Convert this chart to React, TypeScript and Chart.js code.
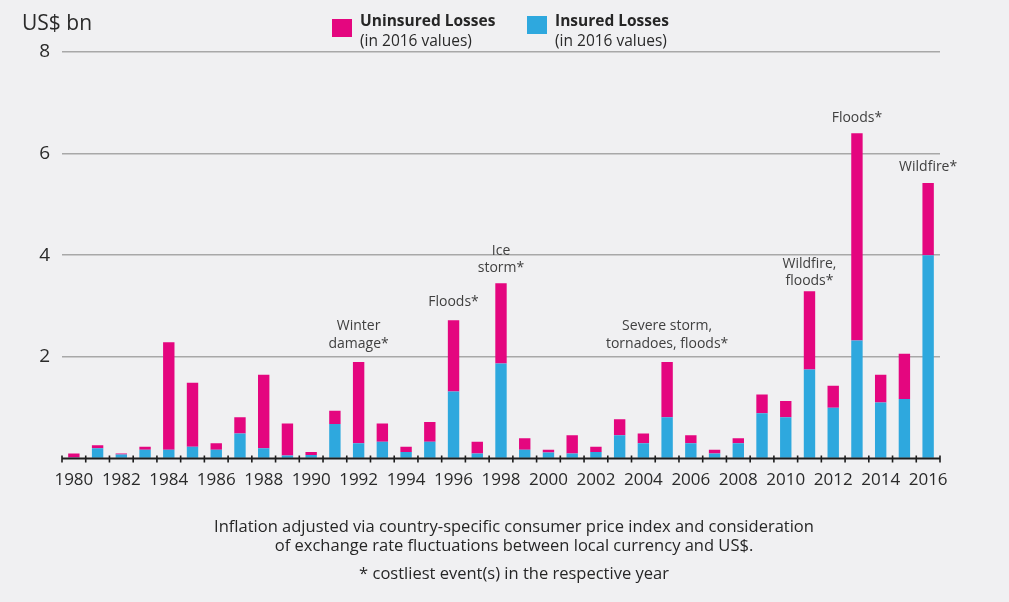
import React, { useEffect, useRef } from "react";
import { Chart, registerables } from "chart.js";

Chart.register(...registerables);

const years = [
  "1980", "1981", "1982", "1983", "1984", "1985", "1986", "1987", "1988", "1989",
  "1990", "1991", "1992", "1993", "1994", "1995", "1996", "1997", "1998", "1999",
  "2000", "2001", "2002", "2003", "2004", "2005", "2006", "2007", "2008", "2009",
  "2010", "2011", "2012", "2013", "2014", "2015", "2016",
];

// US$ bn, 2016 values
const insuredLosses = [
  0.02, 0.2, 0.08, 0.17, 0.17, 0.23, 0.17, 0.49, 0.2, 0.06,
  0.07, 0.68, 0.3, 0.33, 0.13, 0.33, 1.32, 0.1, 1.87, 0.17,
  0.12, 0.1, 0.13, 0.46, 0.3, 0.81, 0.3, 0.1, 0.3, 0.89,
  0.81, 1.75, 1.0, 2.32, 1.1, 1.17, 4.0,
];

const uninsuredLosses = [
  0.08, 0.06, 0.02, 0.06, 2.12, 1.26, 0.13, 0.32, 1.45, 0.63,
  0.06, 0.26, 1.6, 0.36, 0.1, 0.39, 1.4, 0.23, 1.58, 0.23,
  0.05, 0.36, 0.1, 0.31, 0.19, 1.09, 0.16, 0.07, 0.1, 0.37,
  0.32, 1.54, 0.43, 4.08, 0.55, 0.89, 1.42,
];

const yTickValues = [2, 4, 6, 8];

const eventYears = ["1992", "1996", "1998", "2005", "2011", "2013", "2016"];
const eventLabels = [
  ["Winter", "damage*"],
  ["Floods*"],
  ["Ice", "storm*"],
  ["Severe storm,", "tornadoes, floods*"],
  ["Wildfire,", "floods*"],
  ["Floods*"],
  ["Wildfire*"],
];
const eventGaps = [18, 18, 15, 18, 10, 15, 16];

const unitLabel = "US$ bn";
const legendTitles = ["Uninsured Losses", "Insured Losses"];
const legendSub = "(in 2016 values)";
const footnoteLines = [
  "Inflation adjusted via country-specific consumer price index and consideration",
  "of exchange rate fluctuations between local currency and US$.",
];
const footnoteStar = "* costliest event(s) in the respective year";

const MAGENTA = "#e4067f";
const BLUE = "#2ea8de";
const BG = "#f0f0f2";
const TEXT = "#2a2a2a";
const GRID = "#a8a8a8";
const FONT = "'Open Sans', 'DejaVu Sans', sans-serif";

const W = 1009;
const H = 602;

const bgPlugin = {
  id: "bgFill",
  beforeDraw(chart: any) {
    const ctx = chart.ctx;
    ctx.save();
    ctx.fillStyle = BG;
    ctx.fillRect(0, 0, chart.width, chart.height);
    ctx.restore();
  },
};

const decorPlugin = {
  id: "decor",
  afterDraw(chart: any) {
    const ctx = chart.ctx;
    const xs = chart.scales.x;
    const ys = chart.scales.y;
    const base = ys.getPixelForValue(0);
    const step = xs.getPixelForValue(1) - xs.getPixelForValue(0);

    ctx.save();
    // x axis line + ticks
    ctx.strokeStyle = "#1e1e1e";
    ctx.lineWidth = 2;
    ctx.beginPath();
    ctx.moveTo(xs.left, base);
    ctx.lineTo(xs.right, base);
    ctx.stroke();
    ctx.lineWidth = 1.6;
    ctx.beginPath();
    for (let i = 0; i <= years.length; i++) {
      const px = xs.getPixelForValue(0) - step / 2 + i * step;
      ctx.moveTo(px, base - 3);
      ctx.lineTo(px, base + 4);
    }
    ctx.stroke();

    // event annotations
    ctx.fillStyle = "#404040";
    ctx.font = `14px ${FONT}`;
    ctx.textAlign = "center";
    ctx.textBaseline = "middle";
    eventYears.forEach((yr, k) => {
      const i = years.indexOf(yr);
      const total = insuredLosses[i] + uninsuredLosses[i];
      const cx = xs.getPixelForValue(i);
      const top = ys.getPixelForValue(total);
      const lines = eventLabels[k];
      lines.forEach((ln, j) => {
        const y = top - eventGaps[k] - (lines.length - 1 - j) * 17.5;
        ctx.fillText(ln, cx, y);
      });
    });

    // unit label
    ctx.fillStyle = TEXT;
    ctx.textAlign = "left";
    ctx.font = `21px ${FONT}`;
    ctx.fillText(unitLabel, 22, 24);

    // legend
    const items = [
      { color: MAGENTA, x: 332, sy: 19 },
      { color: BLUE, x: 527, sy: 16 },
    ];
    items.forEach((it, k) => {
      ctx.fillStyle = it.color;
      ctx.fillRect(it.x, it.sy, 20, 18);
      ctx.fillStyle = "#262626";
      ctx.font = `bold 15.5px ${FONT}`;
      ctx.fillText(legendTitles[k], it.x + 28, 22);
      ctx.fillStyle = TEXT;
      ctx.font = `15.5px ${FONT}`;
      ctx.fillText(legendSub, it.x + 28, 42);
    });

    // footnotes
    ctx.textAlign = "center";
    ctx.fillStyle = "#262626";
    ctx.font = `16.5px ${FONT}`;
    ctx.fillText(footnoteLines[0], 514, 527);
    ctx.fillText(footnoteLines[1], 514, 546);
    ctx.fillText(footnoteStar, 514, 574);
    ctx.restore();
  },
};

export default function App() {
  const canvasRef = useRef<HTMLCanvasElement | null>(null);

  useEffect(() => {
    document.body.style.margin = "0";
    const canvas = canvasRef.current;
    if (!canvas) return;
    const chart = new Chart(canvas, {
      type: "bar",
      data: {
        labels: years,
        datasets: [
          {
            label: "Insured Losses",
            data: insuredLosses,
            backgroundColor: BLUE,
            borderWidth: 0,
            barPercentage: 0.48,
            categoryPercentage: 1,
          },
          {
            label: "Uninsured Losses",
            data: uninsuredLosses,
            backgroundColor: MAGENTA,
            borderWidth: 0,
            barPercentage: 0.48,
            categoryPercentage: 1,
          },
        ],
      },
      options: {
        responsive: false,
        animation: false,
        devicePixelRatio: 1,
        layout: { padding: { top: 52, right: 69, left: 0, bottom: 0 } },
        plugins: {
          legend: { display: false },
          title: { display: false },
          tooltip: { enabled: false },
        },
        scales: {
          x: {
            stacked: true,
            offset: true,
            grid: { display: false },
            border: { display: false },
            ticks: {
              autoSkip: false,
              maxRotation: 0,
              minRotation: 0,
              padding: 3,
              color: TEXT,
              font: { family: FONT, size: 17 },
              callback: (_v: any, i: number) => (i % 2 === 0 ? years[i] : ""),
            },
            afterFit: (s: any) => {
              s.height = 143.5;
            },
          },
          y: {
            stacked: true,
            min: 0,
            max: 8,
            border: { display: false },
            grid: {
              drawTicks: false,
              lineWidth: 1.6,
              color: (c: any) => (c.tick && c.tick.value === 0 ? "rgba(0,0,0,0)" : GRID),
            },
            afterBuildTicks: (s: any) => {
              s.ticks = [0, ...yTickValues].map((v) => ({ value: v }));
            },
            ticks: {
              padding: 12,
              color: TEXT,
              font: { family: FONT, size: 19 },
              callback: (v: any) => (v === 0 ? "" : String(v)),
            },
            afterFit: (s: any) => {
              s.width = 62;
            },
          },
        },
      },
      plugins: [bgPlugin, decorPlugin],
    });
    return () => chart.destroy();
  }, []);

  return (
    <div style={{ position: "fixed", left: 0, top: 0, width: W, height: H }}>
      <canvas ref={canvasRef} width={W} height={H} style={{ width: W, height: H, display: "block" }} />
    </div>
  );
}
